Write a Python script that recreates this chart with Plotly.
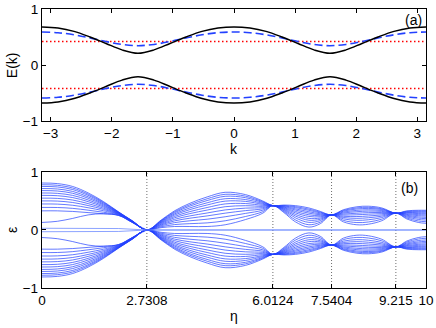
"""Two-panel band plot: (a) E(k) dispersion, (b) spectrum versus eta."""
import plotly.graph_objects as go

# ---- panel (a): dispersion, upper branch values read at k = -pi..pi (step pi/12)
k_pts = [-3.1416, -2.8798, -2.6180, -2.3562, -2.0944, -1.8326, -1.5708,
         -1.3090, -1.0472, -0.7854, -0.5236, -0.2618, 0.0,
         0.2618, 0.5236, 0.7854, 1.0472, 1.3090, 1.5708,
         1.8326, 2.0944, 2.3562, 2.6180, 2.8798, 3.1416]
E_black = [0.68, 0.66, 0.60, 0.50, 0.385, 0.27, 0.21, 0.27, 0.385, 0.50, 0.60, 0.66, 0.68,
           0.66, 0.60, 0.50, 0.385, 0.27, 0.21, 0.27, 0.385, 0.50, 0.60, 0.66, 0.68]
E_blue = [0.59, 0.577, 0.54, 0.483, 0.42, 0.367, 0.345, 0.367, 0.42, 0.483, 0.54, 0.577, 0.59,
          0.577, 0.54, 0.483, 0.42, 0.367, 0.345, 0.367, 0.42, 0.483, 0.54, 0.577, 0.59]
k_red = [-3.1416, 3.1416]
E_red = [0.42, 0.42]
k_ticks = [-3, -2, -1, 0, 1, 2, 3]

# ---- panel (b): upper band edges read at these eta values, lower band is the mirror
eta_pts = [0, 0.4, 0.8, 1.2, 1.6, 2.0, 2.35, 2.7308,
           3.1, 3.45, 3.85, 4.3, 4.77, 5.3, 5.75, 6.0124,
           6.3, 6.6, 6.95, 7.25, 7.5404,
           7.85, 8.2, 8.5, 8.85, 9.215,
           9.5, 9.8, 10]
band_top = [0.81, 0.80, 0.75, 0.64, 0.49, 0.31, 0.16, 0,
            0.17, 0.33, 0.46, 0.57, 0.65, 0.61, 0.50, 0.42,
            0.43, 0.42, 0.38, 0.32, 0.26,
            0.35, 0.40, 0.41, 0.38, 0.29,
            0.33, 0.34, 0.34]
band_bottom = [0.33, 0.33, 0.32, 0.30, 0.28, 0.25, 0.13, 0,
               0.04, 0.06, 0.06, 0.06, 0.09, 0.18, 0.29, 0.42,
               0.30, 0.14, 0.05, 0.11, 0.26,
               0.14, 0.09, 0.10, 0.16, 0.29,
               0.19, 0.13, 0.115]
# relative position of each level inside the band (read from spacing at eta=0)
line_frac = [0, 0.123, 0.247, 0.358, 0.457, 0.556, 0.642, 0.728, 0.802, 0.877, 0.938, 1.0]
edge_eta = [0, 0.4, 0.8, 1.2, 1.6, 2.0, 2.35, 2.7308]
edge_val = [0.13, 0.15, 0.20, 0.26, 0.28, 0.25, 0.13, 0]
zero_eta = [0, 1.0, 2.0, 2.7308, 10]
zero_val = [0.03, 0.03, 0.025, 0, 0]
eta_nodes = [2.7308, 6.0124, 7.5404, 9.215]
eta_ticks = [0, 2.7308, 6.0124, 7.5404, 9.215, 10]
eta_labels = ["0", "2.7308", "6.0124", "7.5404", "9.215", "10"]

BLUE = "rgb(35,65,255)"
FONT = "Liberation Sans, Arial, sans-serif"

fig = go.Figure()

# panel (a)
for sign in (1, -1):
    fig.add_trace(go.Scatter(x=k_red, y=[sign * v for v in E_red], mode="lines",
                             line=dict(color="rgb(255,0,0)", width=1.3, dash="1.5px,2.5px"),
                             xaxis="x", yaxis="y"))
    fig.add_trace(go.Scatter(x=k_pts, y=[sign * v for v in E_blue], mode="lines",
                             line=dict(color=BLUE, width=1.6, dash="8px,4px", shape="spline"),
                             xaxis="x", yaxis="y"))
    fig.add_trace(go.Scatter(x=k_pts, y=[sign * v for v in E_black], mode="lines",
                             line=dict(color="black", width=1.5, shape="spline"),
                             xaxis="x", yaxis="y"))

# panel (b): dotted markers at the collapse points
for v in eta_nodes:
    fig.add_trace(go.Scatter(x=[v, v], y=[-1, 1], mode="lines",
                             line=dict(color="rgb(110,110,110)", width=1, dash="1px,2px"),
                             xaxis="x2", yaxis="y2"))

for sign in (1, -1):
    for f in line_frac:
        ys = [sign * (b + f * (t - b)) for t, b in zip(band_top, band_bottom)]
        fig.add_trace(go.Scatter(x=eta_pts, y=ys, mode="lines",
                                 line=dict(color=BLUE, width=0.7, shape="spline"),
                                 xaxis="x2", yaxis="y2"))
    fig.add_trace(go.Scatter(x=edge_eta, y=[sign * v for v in edge_val], mode="lines",
                             line=dict(color=BLUE, width=0.7, shape="spline"),
                             xaxis="x2", yaxis="y2"))
    fig.add_trace(go.Scatter(x=zero_eta, y=[sign * v for v in zero_val], mode="lines",
                             line=dict(color="rgb(110,140,255)", width=0.8),
                             xaxis="x2", yaxis="y2"))

axis_style = dict(showline=True, linecolor="black", linewidth=1.3, mirror="ticks",
                  ticks="inside", ticklen=4, tickcolor="black", tickwidth=1,
                  showgrid=False, zeroline=False, automargin=False,
                  tickfont=dict(family=FONT, size=13.5, color="black"))

fig.update_layout(
    width=436, height=328,
    margin=dict(l=42, r=10, t=9, b=40, autoexpand=False),
    paper_bgcolor="white", plot_bgcolor="white",
    showlegend=False,
    font=dict(family=FONT, size=14, color="black"),
    xaxis=dict(domain=[0, 1], range=[-3.1416, 3.1416], tickvals=k_ticks,
               anchor="y", **axis_style),
    yaxis=dict(domain=[0.5986, 1], range=[-1, 1], tickvals=[-1, 0, 1],
               anchor="x", **axis_style),
    xaxis2=dict(domain=[0, 1], range=[0, 10], tickvals=eta_ticks, ticktext=eta_labels,
                anchor="y2", **axis_style),
    yaxis2=dict(domain=[0, 0.4158], range=[-1, 1], tickvals=[-1, 0, 1],
                anchor="x2", **axis_style),
    annotations=[
        dict(text="(a)", x=0.995, y=0.99, xref="x domain", yref="y domain",
             xanchor="right", yanchor="top", showarrow=False),
        dict(text="(b)", x=0.985, y=0.95, xref="x2 domain", yref="y2 domain",
             xanchor="right", yanchor="top", showarrow=False),
        dict(text="E(k)", x=-0.078, y=0.799, xref="paper", yref="paper",
             textangle=-90, showarrow=False, xanchor="center", yanchor="middle"),
        dict(text="k", x=0.5, y=0.498, xref="paper", yref="paper",
             showarrow=False, xanchor="center", yanchor="middle"),
        dict(text="ε", x=-0.078, y=0.208, xref="paper", yref="paper",
             textangle=-90, showarrow=False, xanchor="center", yanchor="middle"),
        dict(text="η", x=0.5, y=-0.1, xref="paper", yref="paper",
             showarrow=False, xanchor="center", yanchor="middle"),
    ],
)

# drop the page's default body margin so the figure sits at the window corner
fig.write_html("out.html", config={"displayModeBar": False},
               post_script="document.body.style.margin='0';")
